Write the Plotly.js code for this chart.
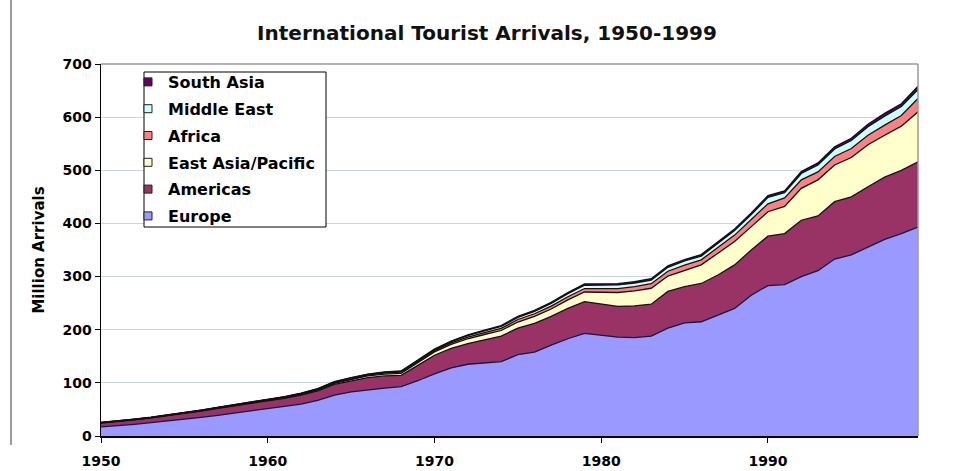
<!DOCTYPE html>
<html><head><meta charset="utf-8">
<script src="https://cdn.plot.ly/plotly-3.0.1.min.js"></script>
<style>html,body{margin:0;padding:0;background:#fff}#chart{width:955px;height:471px}</style>
</head><body><div id="chart"></div>
<script>
const years = [1950,1951,1952,1953,1954,1955,1956,1957,1958,1959,
  1960,1961,1962,1963,1964,1965,1966,1967,1968,1969,
  1970,1971,1972,1973,1974,1975,1976,1977,1978,1979,
  1980,1981,1982,1983,1984,1985,1986,1987,1988,1989,
  1990,1991,1992,1993,1994,1995,1996,1997,1998,1999];

const europe = [17,19,22,25,28,31,35,39,43,47,
  51,55,60,67,77,83,87,90,93,104,
  117,128,135,138,140,153,158,171,183,193,
  189,186,185,188,203,213,215,228,240,265,
  283,285,300,311,333,341,356,370,381,393];

const americas = [7.5,8,8.5,9,10,11,12,13,13.5,14.5,
  15.5,16,17,18,20,21,23,23,21,29,
  35,37,39,43,48,50,54,54,57,60,
  59,58,60,60,69,68,72,75,82,85,
  93,96,106,103,108,109,113,117,119,123];

const eastAsiaPacific = [0.2,0.2,0.3,0.3,0.4,0.5,0.6,0.7,0.8,0.9,
  1.0,1.2,1.4,1.8,2.2,2.6,3.0,3.5,4.0,5.0,
  6.2,7.5,9.0,10,10.5,11.5,13,14,16,18,
  22,26,28,30,29,31,35,41,44,44,
  46,51,60,68,69,74,79,79,83,94];

const africa = [0.5,0.5,0.5,0.6,0.6,0.6,0.7,0.7,0.7,0.7,
  0.8,0.9,1.0,1.1,1.3,1.4,1.6,1.8,2.0,2.2,
  2.4,2.8,3.2,3.6,4.0,4.7,5.0,5.5,6.0,6.5,
  7.2,7.5,8.0,8.5,9.0,9.7,9.5,10,12,13.5,
  15,16,16,15,16,17,18,19,20,25];

const middleEast = [0.2,0.2,0.3,0.3,0.3,0.4,0.4,0.5,0.5,0.5,
  0.6,0.7,0.8,1.0,1.2,1.3,1.4,1.5,1.6,1.8,
  1.9,2.3,2.8,3.2,3.6,4.0,4.5,5.0,5.6,6.2,
  7.1,6.8,6.9,7.0,7.4,7.6,7.0,7.8,8.5,9.0,
  12,10,12,13,14,15,16,17,17,17];

const southAsia = [0.04,0.05,0.06,0.07,0.08,0.1,0.12,0.14,0.16,0.18,
  0.2,0.25,0.3,0.35,0.4,0.5,0.55,0.6,0.7,0.8,
  0.9,1.0,1.2,1.4,1.6,1.8,2.0,2.1,2.2,2.3,
  2.3,2.4,2.4,2.5,2.6,2.7,2.8,3.0,3.1,3.2,
  3.2,3.3,3.6,3.8,4.1,4.2,4.6,5.0,5.3,6.0];

const seriesNames = ["Europe","Americas","East Asia/Pacific","Africa","Middle East","South Asia"];
const seriesValues = [europe, americas, eastAsiaPacific, africa, middleEast, southAsia];
const seriesColors = ["#9999FF","#993366","#FFFFCC","#FF8080","#CCFFFF","#660066"];
const xTickVals = [1950,1960,1970,1980,1990];
const xTickText = ["1950","1960","1970","1980","1990"];

const FONT = "DejaVu Sans, Arial, sans-serif";

const traces = [];
seriesNames.forEach((name, i) => {
  traces.push({
    type: "scatter", mode: "lines", x: years, y: seriesValues[i],
    stackgroup: "one", name: name, showlegend: false,
    fillcolor: seriesColors[i],
    line: {color: i === 0 ? "#1a1040" : "#111111", width: 1.3},
    hoverinfo: "x+y+name"
  });
});
// legend entries (top to bottom: South Asia ... Europe)
for (let i = seriesNames.length - 1; i >= 0; i--) {
  traces.push({
    type: "scatter", mode: "markers", x: [null], y: [null],
    name: seriesNames[i], legendgroup: "g" + i, showlegend: true,
    marker: {symbol: "square", size: 8, color: seriesColors[i], line: {color: "#222", width: 1}}
  });
}

function px2x(p){ return (p - 101) / 817; }
function px2y(p){ return (436 - p) / 372; }

const layout = {
  width: 955, height: 471,
  margin: {l: 101, r: 37, t: 64, b: 35},
  paper_bgcolor: "#ffffff", plot_bgcolor: "#ffffff",
  font: {family: FONT, color: "#000"},
  title: {
    text: "International Tourist Arrivals, 1950-1999",
    font: {family: FONT, size: 20, weight: "bold", color: "#111"},
    xref: "paper", x: px2x(487), xanchor: "center",
    yref: "container", y: 1 - 33/471, yanchor: "middle"
  },
  xaxis: {
    range: [1950, 1999], tickvals: xTickVals, ticktext: xTickText,
    showgrid: false, zeroline: false, showline: true, linecolor: "#000", linewidth: 1.5,
    ticks: "outside", ticklen: 5, tickcolor: "#000", ticklabelstandoff: 7,
    tickfont: {family: FONT, size: 14, weight: "bold", color: "#000"}
  },
  yaxis: {
    range: [0, 700], dtick: 100, tick0: 0,
    showgrid: true, gridcolor: "#C9D5E2", gridwidth: 1,
    zeroline: false, showline: true, linecolor: "#000", linewidth: 1.5,
    ticks: "outside", ticklen: 5, tickcolor: "#000",
    tickfont: {family: FONT, size: 14, weight: "bold", color: "#000"},
    title: {text: "Million Arrivals", font: {family: FONT, size: 15, weight: "bold", color: "#000"}, standoff: 14}
  },
  showlegend: true,
  legend: {
    x: px2x(128), xanchor: "left", y: px2y(65), yanchor: "top",
    bgcolor: "rgba(0,0,0,0)", borderwidth: 0,
    traceorder: "grouped", tracegroupgap: 3,
    font: {family: FONT, size: 16, weight: "bold", color: "#000"}
  },
  shapes: [
    {type: "rect", xref: "paper", yref: "paper", x0: px2x(144), x1: px2x(326), y0: px2y(227), y1: px2y(72),
     fillcolor: "#ffffff", line: {color: "#000", width: 1}, layer: "above"},
    {type: "line", xref: "paper", yref: "paper", x0: 0, x1: 1, y0: 1, y1: 1, line: {color: "#9a9a9a", width: 1.5}, layer: "above"},
    {type: "line", xref: "paper", yref: "paper", x0: 1, x1: 1, y0: 0, y1: 1, line: {color: "#9a9a9a", width: 1.5}, layer: "above"},
    {type: "line", xref: "paper", yref: "paper", x0: px2x(11), x1: px2x(11), y0: px2y(445), y1: px2y(0), line: {color: "#7a7a7a", width: 1.5}, layer: "above"}
  ]
};

Plotly.newPlot("chart", traces, layout, {displayModeBar: false, staticPlot: true});
</script>
</body></html>
